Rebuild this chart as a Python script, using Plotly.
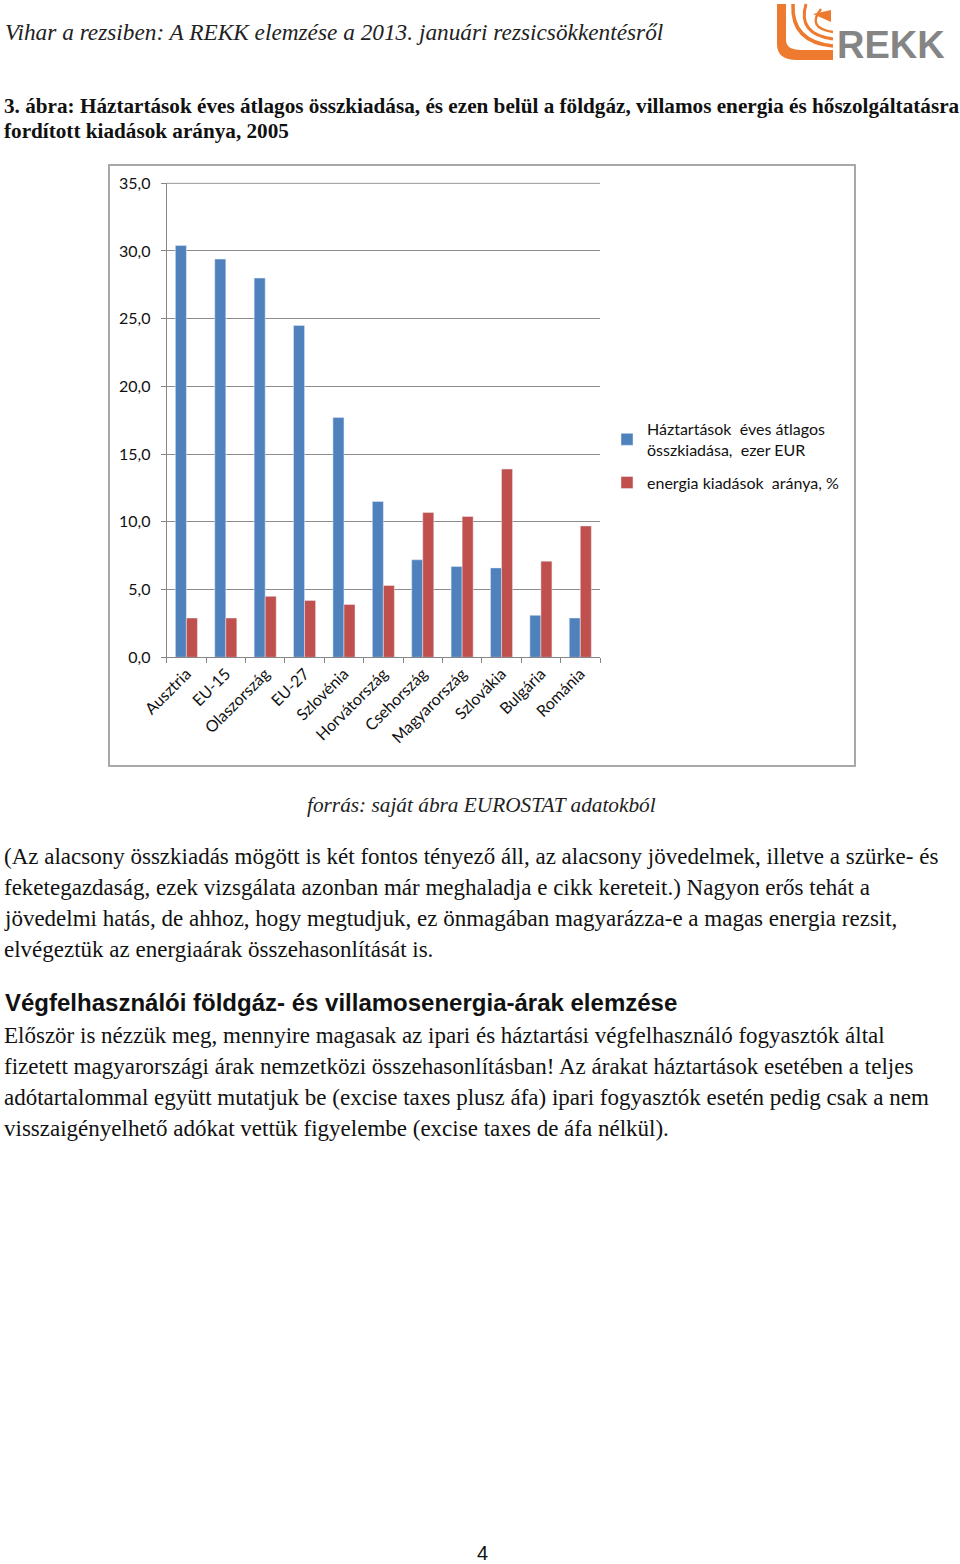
import plotly.graph_objects as go

W, H = 960, 1564

categories = ["Ausztria", "EU-15", "Olaszország", "EU-27", "Szlovénia", "Horvátország",
              "Csehország", "Magyarország", "Szlovákia", "Bulgária", "Románia"]
spending = [30.4, 29.4, 28.0, 24.5, 17.7, 11.5, 7.2, 6.7, 6.6, 3.1, 2.9]
energy_share = [2.9, 2.9, 4.5, 4.2, 3.9, 5.3, 10.7, 10.4, 13.9, 7.1, 9.7]
ytick_vals = [0, 5, 10, 15, 20, 25, 30, 35]
ytick_text = ["0,0", "5,0", "10,0", "15,0", "20,0", "25,0", "30,0", "35,0"]
series_names = ["Háztartások  éves átlagos<br>összkiadása,  ezer EUR", "energia kiadások  aránya, %"]

header_text = "Vihar a rezsiben: A REKK elemzése a 2013. januári rezsicsökkentésről"
title_lines = ["3. ábra: Háztartások éves átlagos összkiadása, és ezen belül a földgáz, villamos energia és hőszolgáltatásra",
               "fordított kiadások aránya, 2005"]
source_text = "forrás: saját ábra EUROSTAT adatokból"
para1 = ["(Az alacsony összkiadás mögött is két fontos tényező áll, az alacsony jövedelmek, illetve a szürke- és",
         "feketegazdaság, ezek vizsgálata azonban már meghaladja e cikk kereteit.) Nagyon erős tehát a",
         "jövedelmi hatás, de ahhoz, hogy megtudjuk, ez önmagában magyarázza-e a magas energia rezsit,",
         "elvégeztük az energiaárak összehasonlítását is."]
heading2 = "Végfelhasználói földgáz- és villamosenergia-árak elemzése"
para2 = ["Először is nézzük meg, mennyire magasak az ipari és háztartási végfelhasználó fogyasztók által",
         "fizetett magyarországi árak nemzetközi összehasonlításban! Az árakat háztartások esetében a teljes",
         "adótartalommal együtt mutatjuk be (excise taxes plusz áfa) ipari fogyasztók esetén pedig csak a nem",
         "visszaigényelhető adókat vettük figyelembe (excise taxes de áfa nélkül)."]
page_no = "4"


def px(x):
    return x / W


def py(y):
    return 1 - y / H


fig = go.Figure()
fig.add_trace(go.Bar(x=categories, y=spending, name=series_names[0], marker_color="#4F81BD",
                     legendgroup="a"))
fig.add_trace(go.Bar(x=categories, y=energy_share, name=series_names[1], marker_color="#C0504D",
                     legendgroup="b"))

chart_font = "Lato, 'Open Sans', sans-serif"
serif = "'Liberation Serif', 'Times New Roman', serif"
sans = "'Liberation Sans', Arial, sans-serif"
grid_color = "#8c8c8c"

fig.update_layout(
    width=W, height=H,
    margin=dict(l=0, r=0, t=0, b=0),
    paper_bgcolor="white", plot_bgcolor="white",
    barmode="group", bargap=0.44, bargroupgap=0.0,
    showlegend=True,
    legend=dict(x=px(607), y=py(412), xanchor="left", yanchor="top",
                font=dict(family=chart_font, size=16, color="#111"),
                bgcolor="rgba(0,0,0,0)", itemclick=False, traceorder="grouped",
                tracegroupgap=9),
    xaxis=dict(domain=[px(166.7), px(600)], type="category", anchor="y",
               showline=True, linecolor="#868686", linewidth=1,
               ticks="outside", ticklen=5, tickcolor="#868686", tickson="boundaries",
               tickangle=-45, tickfont=dict(family=chart_font, size=16, color="#111"),
               showgrid=False, automargin=False, fixedrange=True),
    yaxis=dict(domain=[py(657.3), py(182.6)], range=[0, 35.05], anchor="x",
               tickvals=ytick_vals, ticktext=ytick_text,
               showline=True, linecolor="#868686", linewidth=1,
               ticks="outside", ticklen=5, tickcolor="#868686",
               ticklabelstandoff=7,
               showgrid=True, gridcolor=grid_color, gridwidth=1,
               zeroline=False,
               tickfont=dict(family=chart_font, size=16, color="#111"),
               automargin=False, fixedrange=True),
)

shapes = []
# chart frame
shapes.append(dict(type="rect", xref="paper", yref="paper",
                   x0=px(109), x1=px(855), y0=py(766), y1=py(165),
                   line=dict(color="#a8a8a8", width=2), fillcolor="rgba(0,0,0,0)", layer="below"))
# top gridline at the highest tick (plotly omits it at the plot edge)
shapes.append(dict(type="line", xref="x domain", yref="y", x0=0, x1=1,
                   y0=ytick_vals[-1], y1=ytick_vals[-1],
                   line=dict(color=grid_color, width=1), layer="below"))


def path_from(points_cmds):
    out = []
    for cmd, *coords in points_cmds:
        pts = []
        for i in range(0, len(coords), 2):
            pts.append(f"{px(coords[i]):.5f},{py(coords[i+1]):.5f}")
        out.append(cmd + " " + " ".join(pts))
    return " ".join(out)


orange = "#EE7A30"
logo_L = path_from([("M", 777, 4), ("L", 786, 4), ("L", 786, 40), ("Q", 786, 50, 801, 50),
                    ("L", 833, 50), ("L", 833, 60), ("L", 797, 60), ("Q", 777, 60, 777, 44), ("Z",)])
shapes.append(dict(type="path", xref="paper", yref="paper", path=logo_L,
                   fillcolor=orange, line=dict(width=0)))
for (x0, y0, cx, cy, x1, y1, w) in [(793, 4, 791, 42, 833, 46, 3.5),
                                     (806, 4, 797, 34, 833, 39, 3),
                                     (821, 9, 806, 28, 833, 32, 2.5)]:
    shapes.append(dict(type="path", xref="paper", yref="paper",
                       path=path_from([("M", x0, y0), ("Q", cx, cy, x1, y1)]),
                       line=dict(color=orange, width=w)))
shapes.append(dict(type="path", xref="paper", yref="paper",
                   path=path_from([("M", 813, 14), ("L", 831, 10), ("L", 831, 22), ("Z",)]),
                   fillcolor=orange, line=dict(width=0)))
fig.update_layout(shapes=shapes)

ann = []


def text(x, y, s, size, family, anchor="left", color="#111", **kw):
    ann.append(dict(xref="paper", yref="paper", x=px(x), y=py(y), text=s, showarrow=False,
                    xanchor=anchor, yanchor="middle",
                    font=dict(family=family, size=size, color=color), **kw))


text(3, 32, f"<i>{header_text}</i>", 23.3, serif, color="#222")
text(835, 45, "<b>REKK</b>", 38, sans, color="#858585")
for i, ln in enumerate(title_lines):
    text(2, 106 + i * 25, f"<b>{ln}</b>", 21.2, serif)
text(481, 805, f"<i>{source_text}</i>", 21.3, serif, anchor="center", color="#222")
for i, ln in enumerate(para1):
    text(2, 856 + i * 31, ln, 23, serif)
text(3, 1002, f"<b>{heading2}</b>", 24, sans)
for i, ln in enumerate(para2):
    text(2, 1035 + i * 31, ln, 23, serif)
text(482, 1553, page_no, 20, sans, anchor="center")
fig.update_layout(annotations=ann)

fig.write_html("out.html")
